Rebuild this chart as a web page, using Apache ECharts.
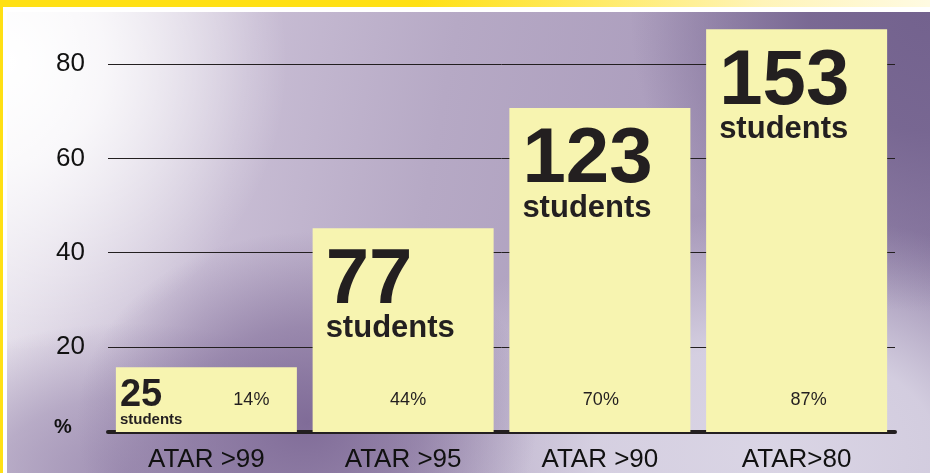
<!DOCTYPE html>
<html>
<head>
<meta charset="utf-8">
<script src="https://cdn.jsdelivr.net/npm/echarts@6/dist/echarts.min.js"></script>
<style>
  html, body { margin: 0; padding: 0; background: #fff; }
  #frame { position: relative; width: 930px; height: 473px; overflow: hidden; background: #fff; }
  #band { position: absolute; left: 0; top: 0; width: 930px; height: 7px;
    background: linear-gradient(to right, #ffe014 0%, #ffe014 45%, #ffeb6a 65%, #fff4b8 82%, #fffbe2 100%); }
  #edge { position: absolute; left: 0; top: 0; width: 3px; height: 473px; background: #ffe014; }
  #bg { position: absolute; left: 7px; top: 12px; width: 923px; height: 461px;
    background:
      radial-gradient(ellipse 280px 290px at 0px 50px, rgba(255,255,255,1) 0%, rgba(255,255,255,0.8) 35%, rgba(255,255,255,0) 100%),
      radial-gradient(ellipse 300px 300px at 923px 0px, rgba(115,98,142,1) 0%, rgba(115,98,142,0.85) 40%, rgba(115,98,142,0) 100%),
      radial-gradient(ellipse 230px 190px at 300px 410px, rgba(128,108,152,1) 0%, rgba(128,108,152,0.6) 50%, rgba(128,108,152,0) 100%),
      radial-gradient(ellipse 260px 150px at 120px 461px, rgba(158,142,178,0.95) 0%, rgba(158,142,178,0.6) 50%, rgba(158,142,178,0) 100%),
      radial-gradient(ellipse 380px 240px at 760px 440px, rgba(218,213,229,1) 0%, rgba(218,213,229,0.9) 45%, rgba(218,213,229,0) 100%),
      linear-gradient(100deg, #ece8f0 0%, #c8bdd4 25%, #b6a9c5 45%, #ad9fbe 65%, #8c7ba3 100%);
  }
  #chart { position: absolute; left: 0; top: 0; width: 930px; height: 473px; }
</style>
</head>
<body>
<div id="frame">
  <div id="band"></div>
  <div id="edge"></div>
  <div id="bg"></div>
  <div id="chart"></div>
</div>
<script>
const categories = ['ATAR >99', 'ATAR >95', 'ATAR >90', 'ATAR>80']
const percentages = [14, 44, 70, 87]
const students = [25, 77, 123, 153]
// horizontal nudges for the % labels, they are not quite centred in the picture
const pctShift = [45, 5, 1, 12]

const ink = '#231f20'
const font = '"Liberation Sans", Arial, Helvetica, sans-serif'

const bigLabel = {
  show: true,
  position: 'insideTopLeft',
  distance: 0,
  offset: [13, 21],
  fontFamily: font,
  formatter: p => '{num|' + students[p.dataIndex] + '}\n{txt|students}',
  rich: {
    num: { fontFamily: font, fontSize: 78, fontWeight: 'bold', color: ink, lineHeight: 64 },
    txt: { fontFamily: font, fontSize: 31, fontWeight: 'bold', color: ink, lineHeight: 31 }
  }
}
const smallLabel = {
  show: true,
  position: 'insideTopLeft',
  distance: 0,
  offset: [4, 11],
  fontFamily: font,
  formatter: p => '{num|' + students[p.dataIndex] + '}\n{txt|students}',
  rich: {
    num: { fontFamily: font, fontSize: 38, fontWeight: 'bold', color: ink, lineHeight: 34 },
    txt: { fontFamily: font, fontSize: 15, fontWeight: 'bold', color: ink, lineHeight: 15 }
  }
}

const option = {
  animation: false,
  title: {
    text: '%',
    left: 49,
    top: 412,
    textStyle: { fontFamily: font, fontSize: 20, fontWeight: 'bold', color: '#111' }
  },
  grid: {
    left: 108,
    right: 35,
    top: 20,
    bottom: 32
  },
  xAxis: {
    type: 'category',
    data: categories,
    axisLine: { onZero: true, onZeroAxisIndex: 0, lineStyle: { color: ink, width: 4 } },
    axisTick: { show: false },
    axisLabel: { fontFamily: font, fontSize: 26, color: '#111', margin: 6 }
  },
  yAxis: [
    {
      // the bars' own scale, drawn on the axis line
      type: 'value',
      min: -1.944,
      max: 88.98,
      show: false
    },
    {
      // the printed scale, a little off from the bars as in the picture
      type: 'value',
      position: 'left',
      min: 0,
      max: 89.38,
      interval: 20,
      axisLine: { show: false },
      axisTick: { show: false },
      axisLabel: {
        fontFamily: font, fontSize: 26, color: '#111', margin: 23,
        showMinLabel: false, showMaxLabel: false
      },
      splitLine: {
        show: true,
        showMinLine: false,
        showMaxLine: false,
        lineStyle: { color: ink, width: 1 }
      }
    }
  ],
  series: [
    {
      type: 'bar',
      yAxisIndex: 0,
      barWidth: 181,
      silent: true,
      itemStyle: { color: '#f7f4b0' },
      data: percentages.map((v, i) => ({
        value: v,
        label: i === 0 ? smallLabel : bigLabel
      }))
    },
    {
      type: 'bar',
      yAxisIndex: 0,
      barWidth: 181,
      barGap: '-100%',
      silent: true,
      itemStyle: { color: 'rgba(0,0,0,0)' },
      data: percentages.map((v, i) => ({
        value: v,
        label: {
          show: true,
          position: 'insideBottom',
          distance: 22,
          offset: [pctShift[i], 0],
          formatter: '{c}%',
          fontFamily: font,
          fontSize: 18,
          lineHeight: 20,
          color: ink
        }
      }))
    }
  ]
}

const chart = echarts.init(document.getElementById('chart'))
chart.setOption(option)
</script>
</body>
</html>
